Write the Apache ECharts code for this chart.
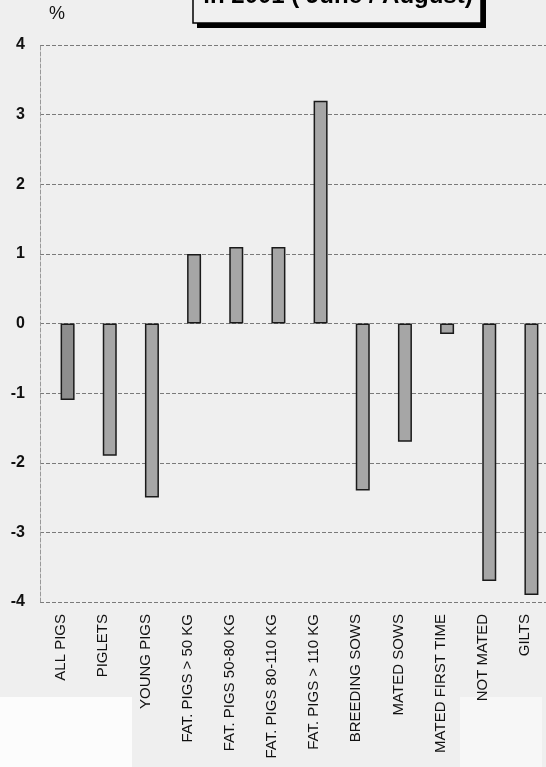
<!DOCTYPE html>
<html>
<head>
<meta charset="utf-8">
<script src="https://cdn.jsdelivr.net/npm/echarts@6/dist/echarts.min.js"></script>
<style>
html,body{margin:0;padding:0;background:#efefef;}
#chart{width:546px;height:767px;}
</style>
</head>
<body>
<div id="chart"></div>
<script>
var categories = ["ALL PIGS","PIGLETS","YOUNG PIGS","FAT. PIGS > 50 KG","FAT. PIGS 50-80 KG","FAT. PIGS 80-110 KG","FAT. PIGS > 110 KG","BREEDING SOWS","MATED SOWS","MATED FIRST TIME","NOT MATED","GILTS"];
var values = [-1.1,-1.9,-2.5,1.0,1.1,1.1,3.2,-2.4,-1.7,-0.15,-3.7,-3.9];
var titleText = "in 2001 ( June / August)";
var unitText = "%";

var chart = echarts.init(document.getElementById('chart'));
var FONT = 'Liberation Sans, Arial, sans-serif';
var barData = values.map(function(v,i){
  return {value:v, itemStyle:{color: i===0 ? '#8e8e8e' : '#a6a6a6'}};
});
var dummy = values.map(function(){return null;});

chart.setOption({
  backgroundColor:'#efefef',
  animation:false,
  grid:{left:40,right:-3,top:45,bottom:165,containLabel:false},
  xAxis:{
    type:'category',
    data:categories,
    axisLine:{show:false},
    axisTick:{show:false},
    splitLine:{show:false},
    axisLabel:{rotate:90,interval:0,margin:12,fontSize:15,color:'#111',fontFamily:FONT}
  },
  yAxis:{
    type:'value',min:-4,max:4,interval:1,
    axisLine:{show:true,lineStyle:{color:'#999',type:'dashed',width:1}},
    axisTick:{show:false},
    splitLine:{show:true,lineStyle:{color:'#7a7a7a',type:'dashed',width:1}},
    axisLabel:{margin:15,fontSize:16,fontWeight:'bold',color:'#111',fontFamily:FONT}
  },
  series:[
    {type:'bar',data:dummy,barWidth:14,silent:true},
    {type:'bar',data:barData,barWidth:14,barGap:'-7%',
     itemStyle:{borderColor:'#1a1a1a',borderWidth:1.5}}
  ],
  graphic:[
    {type:'rect',z:-10,shape:{x:0,y:697,width:132,height:70},style:{fill:'#fcfcfc'}},
    {type:'rect',z:-10,shape:{x:460,y:697,width:82,height:70},style:{fill:'#f7f7f7'}},
    {type:'rect',z:10,shape:{x:197,y:-10,width:289,height:38},style:{fill:'#000'}},
    {type:'rect',z:11,shape:{x:193,y:-10,width:288,height:33},style:{fill:'#f0f0f0',stroke:'#000',lineWidth:1.5}},
    {type:'text',z:12,x:338,y:8,style:{text:titleText,fontSize:24,fontWeight:'bold',fontFamily:FONT,fill:'#000',textAlign:'center',textVerticalAlign:'bottom'}},
    {type:'text',z:12,x:57,y:14,style:{text:unitText,fontSize:18,fontFamily:FONT,fill:'#111',textAlign:'center',textVerticalAlign:'middle'}}
  ]
});
</script>
</body>
</html>
